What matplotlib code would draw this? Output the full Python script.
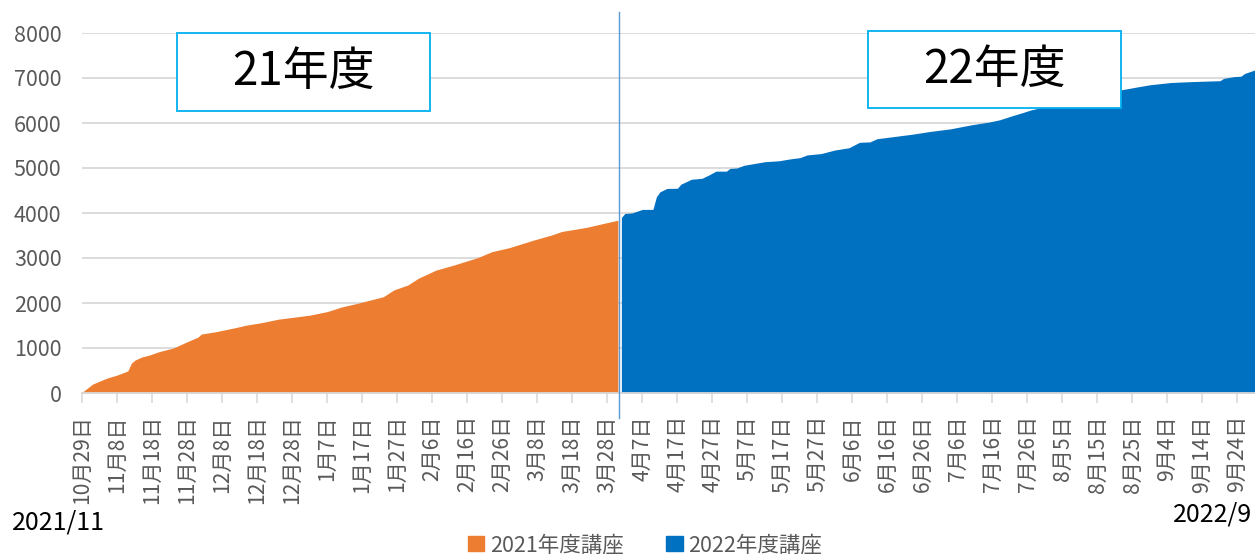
import datetime as dt

import matplotlib
matplotlib.use("Agg")
import matplotlib.pyplot as plt
from matplotlib.patches import Rectangle, Patch

plt.rcParams["font.family"] = ["Noto Sans CJK JP", "DejaVu Sans"]

# cumulative enrolment, FY2021 courses
fy2021_dates = [
    "2021-10-29", "2021-11-01", "2021-11-05", "2021-11-08", "2021-11-11", "2021-11-12",
    "2021-11-13", "2021-11-15", "2021-11-17", "2021-11-20", "2021-11-24", "2021-11-28",
    "2021-12-01", "2021-12-02", "2021-12-06", "2021-12-11", "2021-12-15", "2021-12-19",
    "2021-12-24", "2021-12-28", "2022-01-02", "2022-01-07", "2022-01-11", "2022-01-16",
    "2022-01-23", "2022-01-26", "2022-01-30", "2022-02-02", "2022-02-07", "2022-02-12",
    "2022-02-19", "2022-02-23", "2022-02-28", "2022-03-07", "2022-03-12", "2022-03-15",
    "2022-03-22", "2022-03-27", "2022-03-31",
]
fy2021_counts = [
    20, 200, 330, 400, 490, 660,
    730, 800, 840, 920, 1000, 1140,
    1240, 1310, 1360, 1440, 1510, 1560,
    1640, 1680, 1730, 1810, 1910, 2000,
    2140, 2290, 2400, 2550, 2730, 2840,
    3010, 3140, 3230, 3400, 3510, 3590,
    3680, 3770, 3840,
]

# cumulative enrolment, FY2022 courses
fy2022_dates = [
    "2022-04-01", "2022-04-02", "2022-04-04", "2022-04-07", "2022-04-10", "2022-04-11",
    "2022-04-12", "2022-04-14", "2022-04-17", "2022-04-18", "2022-04-21", "2022-04-24",
    "2022-04-26", "2022-04-28", "2022-05-01", "2022-05-02", "2022-05-04", "2022-05-06",
    "2022-05-09", "2022-05-12", "2022-05-16", "2022-05-19", "2022-05-22", "2022-05-24",
    "2022-05-28", "2022-06-01", "2022-06-05", "2022-06-08", "2022-06-11", "2022-06-13",
    "2022-06-18", "2022-06-23", "2022-06-28", "2022-07-04", "2022-07-10", "2022-07-15",
    "2022-07-18", "2022-07-22", "2022-07-25", "2022-07-27", "2022-08-02", "2022-08-09",
    "2022-08-16", "2022-08-22", "2022-08-27", "2022-08-30", "2022-09-05", "2022-09-11",
    "2022-09-19", "2022-09-20", "2022-09-23", "2022-09-25", "2022-09-26", "2022-09-29",
]
fy2022_counts = [
    3900, 3990, 4000, 4080, 4080, 4360,
    4470, 4545, 4550, 4640, 4750, 4770,
    4845, 4930, 4930, 4990, 5000, 5060,
    5100, 5140, 5160, 5200, 5230, 5290,
    5320, 5400, 5450, 5570, 5580, 5650,
    5700, 5750, 5810, 5870, 5960, 6020,
    6070, 6170, 6240, 6290, 6400, 6530,
    6640, 6740, 6810, 6850, 6900, 6920,
    6940, 6990, 7030, 7040, 7100, 7180,
]

series_names = ["2021年度講座", "2022年度講座"]
period_labels = ["21年度", "22年度"]
y_ticks = [0, 1000, 2000, 3000, 4000, 5000, 6000, 7000, 8000]
start_date = dt.date(2021, 10, 29)
end_date = dt.date(2022, 9, 29)
corner_left = "2021/11"
corner_right = "2022/9"

ORANGE = "#ED7D31"
BLUE = "#0070C0"
GRID = "#D9D9D9"
LABEL = "#595959"
BOX = "#00B0F0"


def day_index(s):
    return (dt.date.fromisoformat(s) - start_date).days


x21 = [day_index(d) for d in fy2021_dates]
x22 = [day_index(d) for d in fy2022_dates]
n_days = (end_date - start_date).days

W, H = 1255, 554
left_px = 82.3
fig = plt.figure(figsize=(W / 100, H / 100), dpi=100)
ax = fig.add_axes([left_px / W, 1 - 393 / H, 1 - left_px / W, 360 / H])

ax.fill_between(x21, fy2021_counts, 0, color=ORANGE, lw=0, zorder=2)
ax.fill_between(x22, fy2022_counts, 0, color=BLUE, lw=0, zorder=3)

ax.set_xlim(0, n_days)
ax.set_ylim(0, 8000)
ax.set_yticks(y_ticks)
ax.set_yticklabels([str(v) for v in y_ticks])
ax.yaxis.grid(True, color=GRID, lw=1.3)
ax.set_axisbelow(True)

ticks = list(range(0, n_days + 1, 10))
tick_labels = []
for t in ticks:
    d = start_date + dt.timedelta(days=t)
    tick_labels.append(f"{d.month}月{d.day}日")
ax.set_xticks(ticks)
ax.set_xticklabels(tick_labels, rotation=90)

for s in ("top", "right", "left"):
    ax.spines[s].set_visible(False)
ax.spines["bottom"].set_color(GRID)
ax.spines["bottom"].set_linewidth(1.3)
ax.spines["bottom"].set_zorder(4)

ax.tick_params(axis="x", length=7, width=1.2, color=GRID, labelcolor=LABEL,
               labelsize=15.2, pad=9)
ax.tick_params(axis="y", length=0, labelcolor=LABEL, labelsize=15.5, pad=15)

# fiscal-year boundary
boundary = x21[-1] + 0.2
ax.plot([boundary, boundary], [-0.069, 1.058], color="#5B9BD5", lw=1.0,
        transform=ax.get_xaxis_transform(), clip_on=False, zorder=6)

# period boxes
for label, (x0, y0, x1, y1) in zip(period_labels,
                                   [(177, 33, 430, 111), (868, 31, 1121, 108)]):
    rect = Rectangle((x0 / W, 1 - y1 / H), (x1 - x0) / W, (y1 - y0) / H,
                     transform=fig.transFigure, facecolor="white",
                     edgecolor=BOX, lw=1.3, zorder=10)
    fig.add_artist(rect)
    fig.text((x0 + x1) / 2 / W, 1 - (y0 + y1) / 2 / H, label, ha="center",
             va="center", fontsize=33, color="black", zorder=11)

fig.text(12 / W, 1 - 523 / H, corner_left, ha="left", va="center",
         fontsize=18, color="black")
fig.text(1173 / W, 1 - 515 / H, corner_right, ha="left", va="center",
         fontsize=18, color="black")

handles = [Patch(color=ORANGE), Patch(color=BLUE)]
fig.legend(handles, series_names, loc="center", bbox_to_anchor=(645 / W, 1 - 545 / H),
           ncol=2, frameon=False, fontsize=15.5, labelcolor=LABEL,
           handlelength=0.75, handleheight=0.75, handletextpad=0.25,
           columnspacing=2.0, borderpad=0)

fig.savefig("out.png", dpi=100)
